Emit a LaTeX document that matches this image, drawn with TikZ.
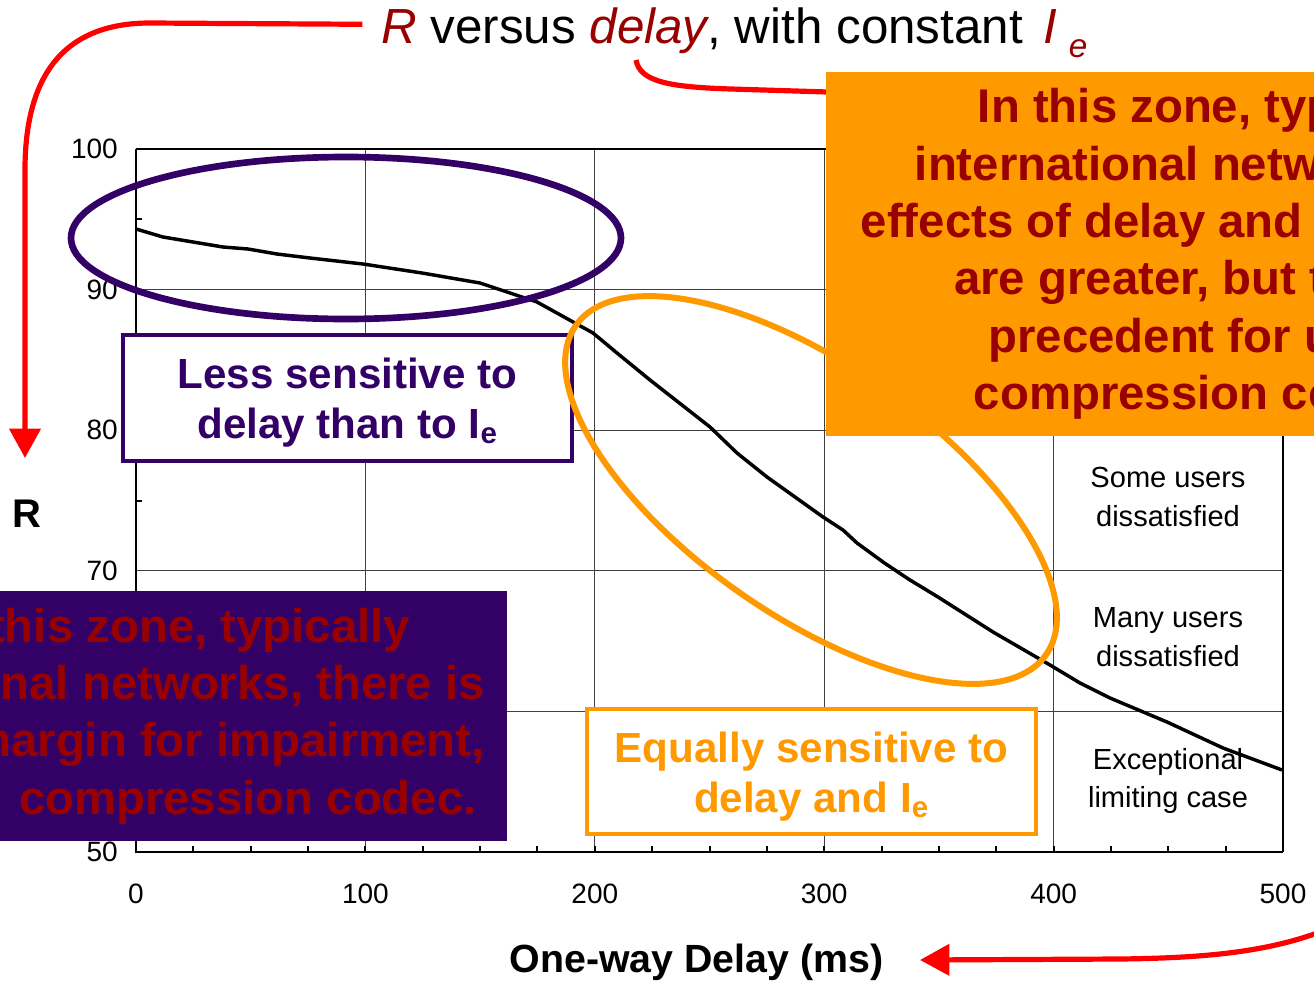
\documentclass[tikz,border=0pt]{standalone}
\usepackage{fontspec}
\setmainfont{Liberation Sans}
\usetikzlibrary{arrows.meta}

\definecolor{deepred}{RGB}{153,0,0}
\definecolor{zonepurple}{RGB}{51,0,102}
\definecolor{zoneorange}{RGB}{255,153,0}
\definecolor{markred}{RGB}{255,0,0}

\begin{document}
\begin{tikzpicture}[x=0.75pt, y=-0.75pt, >={Triangle[length=22pt,width=23pt]},
    gridline/.style={draw=black!75, line width=0.8pt},
    tickmark/.style={line width=1.5pt},
    ticklbl/.style={font=\fontsize{21}{25}\selectfont, inner sep=0pt},
    zonelbl/.style={font=\fontsize{21.8}{29}\selectfont, align=center, inner sep=0pt},
    callout/.style={draw, line width=3pt, fill=white, align=center,
                    minimum width=336.75pt, minimum height=94pt, inner sep=0pt,
                    font=\bfseries\fontsize{31.6}{37.5}\selectfont},
    zonebox/.style={fill, text=deepred, inner sep=0pt,
                    font=\bfseries\fontsize{35.5}{43}\selectfont},
    marker/.style={draw=markred, line width=3.9pt}]
  \useasboundingbox (0,0) rectangle (1314,982);
  \clip (0,0) rectangle (1314,982);

  % grid, 100 ms and 10 R per cell
  \foreach \d in {100,200,300,400}
    \draw[gridline] ({136+2.294*\d},149) -- ({136+2.294*\d},852);
  \foreach \r in {60,70,80,90}
    \draw[gridline] (136,{852-14.06*(\r-50)}) -- (1283,{852-14.06*(\r-50)});
  \foreach \d in {25,50,...,475}
    \draw[tickmark] ({136+2.294*\d},852) -- ++(0,-6);
  \foreach \r in {55,65,...,95}
    \draw[tickmark] (136,{852-14.06*(\r-50)}) -- ++(6,0);
  \draw[line width=1.5pt] (136,149) -- (1283,149);
  \draw[line width=2.2pt] (1283,149) -- (1283,852);
  \draw[line width=2pt] (136,149) -- (136,852) -- (1283,852);

  \foreach \d in {0,100,...,500}
    \node[ticklbl] (xt\d) at ({136+2.294*\d},894) {\d};
  \foreach \r in {50,70,80,90,100}
    \node[ticklbl, anchor=east] (yt\r) at (118,{852-14.06*(\r-50)}) {\r};

  \node[zonelbl] (someusers) at (1168,497) {Some users\\dissatisfied};
  \node[zonelbl] (manyusers) at (1168,637) {Many users\\dissatisfied};
  \node[zonelbl] (limitcase) at (1168,781) {Exceptional\\limiting case};

  % R against one-way delay
  \draw[line width=2.6pt, line join=round] plot coordinates {
    (136,229) (163,237) (223,247) (248,249) (277,254) (310,258) (363,264)
    (422,273) (480,283) (537,302) (593,333) (617,353) (650,380) (710,427)
    (737,453) (767,477) (823,517) (843,530) (857,543) (883,562) (910,580)
    (938,597) (993,632) (1050,665) (1080,683) (1110,698) (1167,722)
    (1223,748) (1282,770)};

  \node[font=\bfseries\fontsize{30}{36}\selectfont] (rlbl) at (27,514) {R};
  \node[font=\bfseries\fontsize{29.5}{36}\selectfont, anchor=base] (xlbl) at (696.5,972) {One-way Delay (ms)};

  \node[font=\fontsize{37}{44}\selectfont, anchor=base west, inner sep=0pt] (title) at (381,43)
    {\textcolor{deepred}{\itshape R} versus \textcolor{deepred}{\itshape delay}, with constant\hspace{5pt}
     \textcolor{deepred}{\itshape I\hspace{9pt}\raisebox{-10.5pt}{\fontsize{25}{30}\selectfont e}}};

  % red pointers
  \coordinate (rtip) at (25,458);
  \coordinate (delaymark) at (636,60);
  \coordinate (boxentry) at (860,93);
  \coordinate (offright) at (1330,928);
  \coordinate (xtip) at (920,960);
  \draw[marker, ->] ([xshift=-14pt,yshift=6pt]title.west) -- (150,23)
    .. controls (60,23) and (25,80) .. (25,170) -- (rtip);
  \draw[marker] (delaymark) .. controls (640,82) and (670,87) .. (731,89) -- (boxentry);
  \draw[marker, ->] (offright) .. controls (1270,953) and (1200,958) .. (1120,959) -- (xtip);

  \draw[zonepurple, line width=5pt] (346,238) ellipse [x radius=275, y radius=81];
  \node[callout, draw=zonepurple, text=zonepurple] (lesssens) at (347.5,398)
    {\rule{0pt}{30.5pt}Less sensitive to\\delay than to I\textsubscript{e}};
  \draw[zoneorange, line width=4.5pt] (811,490) ellipse [x radius=287, y radius=125, rotate=-35];
  \node[callout, draw=zoneorange, text=zoneorange] (equalsens) at (811.5,771.5)
    {\rule{0pt}{30.5pt}Equally sensitive to\\delay and I\textsubscript{e}};

  \node[zonebox, fill=zoneorange, align=center, minimum width=585pt, minimum height=273pt]
    (intlzone) at (1216,254)
    {In this zone, typically\\international networks, the\\effects of delay and impairment\\
     are greater, but there is\\precedent for use of\\compression codecs.};
  \node[zonebox, fill=zonepurple, align=right, inner xsep=16.5pt, minimum height=187.5pt,
        anchor=east] (natzone) at (507,716)
    {In this zone, typically\hspace*{56pt}\\national networks, there is\hspace*{10pt}\\
     margin for impairment,\\compression codec.\hspace*{6pt}};
\end{tikzpicture}
\end{document}
